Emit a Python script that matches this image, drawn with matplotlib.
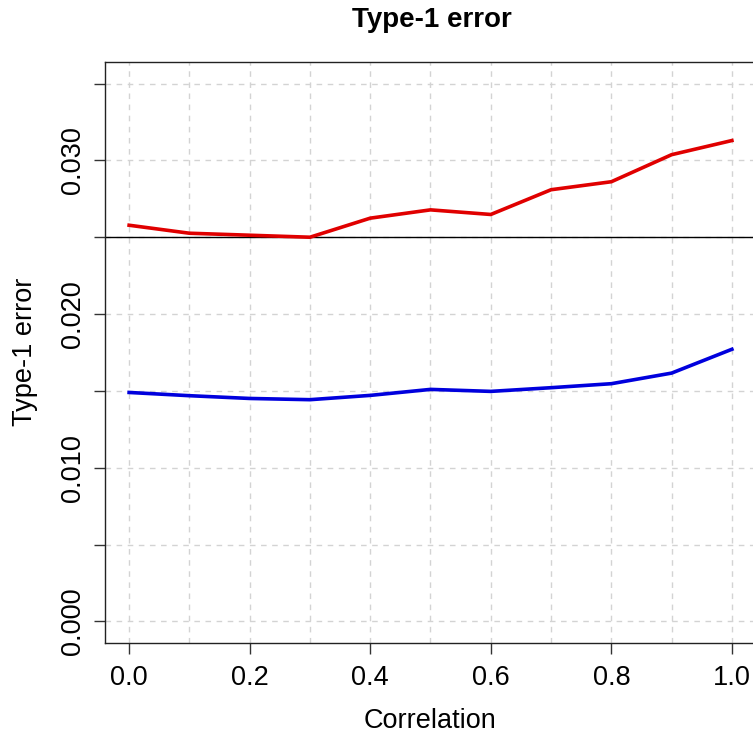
import numpy as np
import matplotlib
matplotlib.use("Agg")
import matplotlib.pyplot as plt

plt.rcParams['font.family'] = ['Liberation Sans', 'DejaVu Sans']

# type-1 error rates over the correlation grid
correlation = [0.0, 0.1, 0.2, 0.3, 0.4, 0.5, 0.6, 0.7, 0.8, 0.9, 1.0]
err_red = [0.02578, 0.02526, 0.02513, 0.02500, 0.02624, 0.02678,
           0.02648, 0.02809, 0.02861, 0.03037, 0.03129]
err_blue = [0.01490, 0.01469, 0.01451, 0.01443, 0.01471, 0.01510,
            0.01497, 0.01521, 0.01547, 0.01616, 0.01771]
nominal = 0.025

xticks = [0.0, 0.2, 0.4, 0.6, 0.8, 1.0]
ytick_pos = [0.000, 0.005, 0.010, 0.015, 0.020, 0.025, 0.030, 0.035]
ytick_lab = ['0.000', '', '0.010', '', '0.020', '', '0.030', '']

W, H = 753, 733
fig = plt.figure(figsize=(W / 100, H / 100), dpi=100)
ax = fig.add_axes([105 / W, 1 - 643 / H, (756 - 105) / W, (643 - 62) / H])

# dashed grey grid, R style
grid_kw = dict(color='#D3D3D3', lw=1, ls=(0, (4, 4)), zorder=0)
for gx in np.arange(0, 1.01, 0.1):
    ax.axvline(gx, **grid_kw)
for gy in ytick_pos:
    ax.axhline(gy, **grid_kw)

ax.axhline(nominal, color='black', lw=1, zorder=1)
ax.plot(correlation, err_red, color='#E00000', lw=2.6, zorder=2)
ax.plot(correlation, err_blue, color='#0000DD', lw=2.6, zorder=2)

ax.set_xlim(-0.04, 1.04)
ax.set_ylim(-0.0014, 0.0364)
ax.set_xticks(xticks)
ax.set_xticklabels(['%.1f' % t for t in xticks])
ax.set_yticks(ytick_pos)
ax.set_yticklabels(ytick_lab, rotation=90, va='center')
ax.tick_params(axis='both', direction='out', length=8, width=1, labelsize=19.5, color='#333333')
ax.tick_params(axis='x', pad=8)
ax.tick_params(axis='y', pad=6)
for s in ax.spines.values():
    s.set_color('#222222')
    s.set_linewidth(1)

fig.text(430 / W, 1 - 728 / H, 'Correlation', ha='center', va='baseline', fontsize=19.5)
fig.text(38 / W, 1 - 352 / H, 'Type-1 error', ha='right', va='center', rotation=90, fontsize=19.5)
fig.text(432 / W, 1 - 27 / H, 'Type-1 error', ha='center', va='baseline',
         fontsize=20, fontweight='bold')

fig.savefig('out.png', dpi=100)
